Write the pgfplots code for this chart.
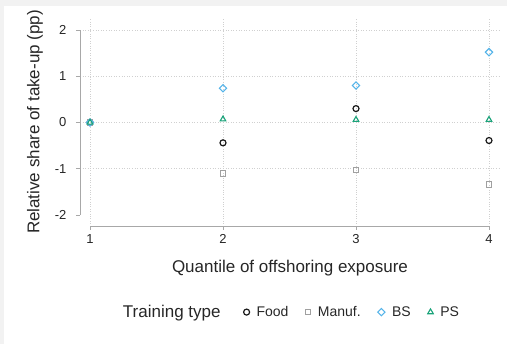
\documentclass[border=0pt]{standalone}
\usepackage{fontspec}
\setmainfont{Liberation Sans}
\usepackage{pgfplots}
\pgfplotsset{compat=1.18}
\definecolor{foodc}{HTML}{1A1A1A}
\definecolor{manc}{HTML}{A0A0A0}
\definecolor{bsc}{HTML}{56B4E9}
\definecolor{psc}{HTML}{1AA37A}
\definecolor{axc}{HTML}{A8A8A8}
\definecolor{gridc}{HTML}{D0D0D0}
\definecolor{txt}{HTML}{262626}
\begin{document}
\begin{tikzpicture}[x=1pt,y=1pt]
\path[use as bounding box] (0,0) rectangle (507,344);
\fill[black!5] (0,338) rectangle (507,344);
\fill[black!5] (0,0) rectangle (4,344);
\begin{axis}[
  at={(80pt,118pt)}, anchor=south west,
  scale only axis, width=420pt, height=208pt,
  xmin=0.9248, xmax=4.0827, ymin=-2.238, ymax=2.259,
  xtick={1,2,3,4}, ytick={-2,-1,0,1,2},
  tick pos=left, tick align=outside, major tick length=4pt,
  axis line style={draw=none},
  tick style={axc, line width=0.9pt},
  xmajorgrids, grid style={dotted, gridc, line width=0.6pt},
  clip=false,
  /pgf/number format/assume math mode=true,
  ticklabel style={font=\fontsize{13}{15}\selectfont, text=txt},
  yticklabel style={xshift=-6pt},
  xticklabel style={yshift=-1pt},
  xlabel={Quantile of offshoring exposure},
  ylabel={Relative share of take-up (pp)},
  label style={font=\fontsize{17}{20}\selectfont, text=txt},
  xlabel style={at={(axis description cs:0.5,-0.202)}, anchor=center},
  ylabel style={at={(axis description cs:-0.107,0.5)}, anchor=center},
  legend columns=-1,
  legend style={draw=none, fill=none, at={(axis description cs:0.078,-0.414)}, anchor=west,
    font=\fontsize{14}{16}\selectfont, text=txt,
    /tikz/every odd column/.append style={column sep=5pt},
    /tikz/every even column/.append style={column sep=15pt}},
]
\draw[dotted, gridc, line width=0.6pt] (axis cs:0.9248,-1) -- (axis cs:4.0827,-1);
\draw[dotted, gridc, line width=0.6pt] (axis cs:0.9248,0) -- (axis cs:4.0827,0);
\draw[dotted, gridc, line width=0.6pt] (axis cs:0.9248,1) -- (axis cs:4.0827,1);
\draw[dotted, gridc, line width=0.6pt] (axis cs:0.9248,2) -- (axis cs:4.0827,2);
\draw[axc, line width=0.9pt] (axis cs:0.9248,-2) -- (axis cs:0.9248,2);
\draw[axc, line width=0.9pt] (axis cs:1,-2.238) -- (axis cs:4,-2.238);

\addlegendimage{empty legend}
\addlegendentry{\fontsize{17}{20}\selectfont Training type\kern6pt}

\addplot[only marks, mark=o, mark size=3pt, foodc, line width=1.2pt] coordinates {
(1,0) (2,-0.44) (3,0.30) (4,-0.39)};
\addlegendentry{Food}
\addplot[only marks, mark=square, mark size=2.7pt, manc, line width=1.1pt] coordinates {
(1,0) (2,-1.10) (3,-1.03) (4,-1.34)};
\addlegendentry{Manuf.}
\addplot[only marks, mark=square, mark options={rotate=45}, mark size=2.6pt, bsc, line width=1.1pt] coordinates {
(1,0) (2,0.74) (3,0.80) (4,1.52)};
\addlegendentry{BS}
\addplot[only marks, mark=triangle, mark size=3.2pt, psc, line width=1.1pt] coordinates {
(1,0) (2,0.07) (3,0.06) (4,0.06)};
\addlegendentry{PS}
\end{axis}
\end{tikzpicture}
\end{document}
